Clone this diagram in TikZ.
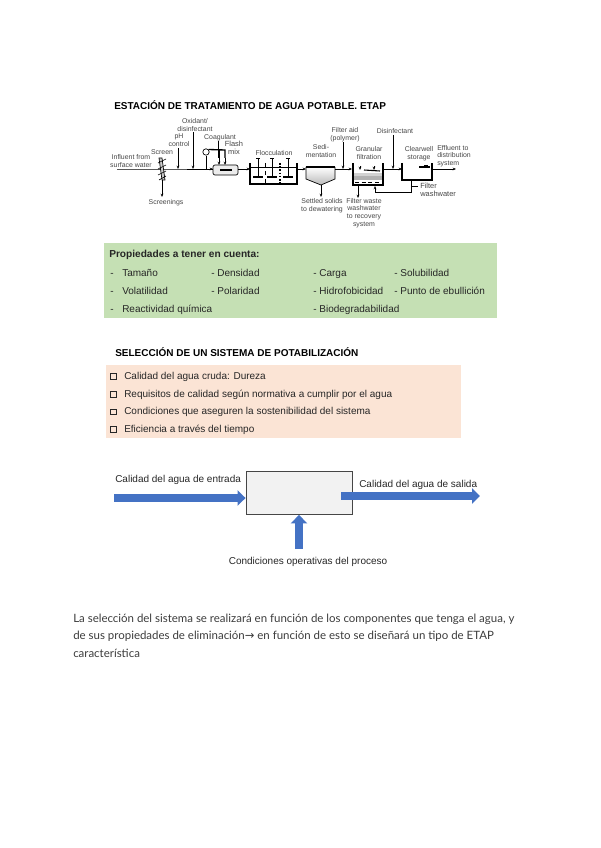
\documentclass[tikz,border=0pt]{standalone}
\usepackage{fontspec}
\setmainfont{Liberation Sans}
\newfontfamily\latofont{Lato}
\newfontfamily\flechafont{DejaVu Sans}
\usetikzlibrary{arrows.meta, calc}
\definecolor{etapgreen}{RGB}{197, 224, 180}
\definecolor{etappeach}{RGB}{251, 228, 213}
\definecolor{etapblue}{RGB}{68, 114, 196}
\definecolor{etapbox}{RGB}{242, 242, 242}
\definecolor{etapgray}{RGB}{70, 70, 70}
\definecolor{etaptext}{RGB}{60, 60, 60}
\tikzset{
  titulo/.style={anchor=west, inner sep=0pt, font=\fontsize{7.5}{8}\selectfont\bfseries},
  fila/.style={anchor=west, inner sep=0pt, text height=5.4pt, text depth=1.6pt, font=\fontsize{7.5}{9}\selectfont, text=black!85},
  casilla/.style={draw=black!85, line width=0.7pt, inner sep=0pt, minimum size=4pt},
  rotulo/.style={align=center, inner sep=0pt, font=\fontsize{5.2}{5.7}\selectfont, text=etapgray},
  linea/.style={line width=0.5pt, black},
  tramo/.style={linea, -{Stealth[length=2.5pt, width=2pt]}},
  tanque/.style={line width=0.8pt, black},
  flecha/.style={line width=5.5pt, etapblue, -{Triangle[length=6pt, width=11.5pt]}},
  parrafo/.style={anchor=west, inner sep=0pt, text height=6.4pt, text depth=1.8pt, font=\latofont\fontsize{8.6}{10}\selectfont, text=etaptext},
}
\begin{document}
\begin{tikzpicture}[x=0.75pt, y=-0.75pt]
\useasboundingbox (0,0) rectangle (600,848);

% Titulo de la estacion
\node[titulo] (tituloetap) at (114,105) {ESTACIÓN DE TRATAMIENTO DE AGUA POTABLE. ETAP};

% Linea principal
\coordinate (entrada) at (117,169);
\coordinate (criba) at (162,169);
\coordinate (phpunto) at (178,169);
\coordinate (oxpunto) at (193,169);
\coordinate (mezcla) at (213,169);
\draw[linea, line width=0.7pt] (entrada) -- (criba) -- (mezcla);
\draw[tramo] (oxpunto) -- (mezcla);

% Criba
\draw[linea, fill=gray!40] (159,158) -- (162,158) -- (165,180) -- (162,180) -- cycle;
\draw[linea] (158,163) -- (166,159) (158,169) -- (166,165) (158,175) -- (166,171) (159,180) -- (166,176);
\coordinate (cribafin) at (162,180);
\coordinate (cribado) at (162,197);
\draw[tramo] (cribafin) -- (cribado);

% Dosificaciones
\coordinate (phinicio) at (178,148);
\coordinate (oxinicio) at (193,132);
\draw[tramo] (phinicio) -- (phpunto);
\draw[tramo] (oxinicio) -- (oxpunto);

% Coagulante y mezcla rapida
\node[draw, circle, linea, inner sep=0pt, minimum size=4.8pt] (bomba) at (206,152) {};
\coordinate (bombapie) at (206,169);
\draw[linea] (bomba) -- (bombapie);
\coordinate (coagA) at (219,150);
\coordinate (coagB) at (225,150);
\draw[line width=1pt] (bomba.north east) -- (coagB) -- (225,158);
\draw[line width=1pt] (coagA) -- (219,158);
\draw[tramo] (225,158) -- (225,165);
\draw[tramo] (219,158) -- (219,165);
\draw[linea] (218,141) -- (218,150);
\draw[linea, rounded corners=1.5pt, fill=gray!15] (213,165) rectangle (238,175);
\draw[line width=0.8pt] (220,170) -- (232,170);

% Floculacion
\coordinate (flocin) at (250,169);
\draw[tramo, line width=0.7pt] (238,169) -- (flocin);
\draw[tanque] (250,163) -- (250,184) -- (297,184) -- (297,163);
\draw[linea] (250,167) -- (297,167);
\draw[linea, dashed] (265,163) -- (265,184);
\draw[line width=0.8pt, dash pattern=on 1.2pt off 1.2pt] (280,163) -- (280,184);
\foreach \px in {258,272,288} {
  \draw[linea] (\px,158) -- (\px,177);
  \draw[line width=0.8pt] (\px-5,177) -- (\px+5,177);
  \draw[linea] (\px-2,158) -- (\px+2,158);
}

% Sedimentacion
\coordinate (sedin) at (306,169);
\draw[tramo, line width=0.7pt] (297,169) -- (sedin);
\path[top color=white, bottom color=gray!55] (306,167) -- (335,167) -- (335,179) -- (321,185) -- (306,179) -- cycle;
\draw[linea] (306,167) -- (306,179) -- (321,185) -- (335,179) -- (335,167);
\draw[line width=0.8pt] (306,167) -- (335,167);
\coordinate (sedpie) at (321,185);
\coordinate (lodos) at (321,197);
\draw[tramo] (sedpie) -- (lodos);

% Filtracion granular
\coordinate (filin) at (352,169);
\coordinate (ayudapunto) at (343,169);
\coordinate (ayuda) at (343,142);
\draw[tramo, line width=0.7pt] (335,169) -- (filin);
\draw[tramo] (ayuda) -- (ayudapunto);
\fill[gray!35] (353,173) rectangle (383,180);
\fill[gray!60] (353,176) rectangle (383,180);
\draw[tanque] (353,163) -- (353,185) -- (383,185) -- (383,163);
\draw[line width=0.8pt] (364,170) -- (380,171);
\draw[tramo] (360,166) -- (360,170);
\draw[tramo] (374,166) -- (374,170);
\draw[linea, densely dashed] (355,182) -- (381,182);
\coordinate (residuo) at (358,198);
\draw[tramo] (358,185) -- (residuo);

% Deposito de agua tratada
\coordinate (depin) at (402,169);
\coordinate (desinfpunto) at (393,169);
\coordinate (desinf) at (393,135);
\draw[tramo, line width=0.7pt] (383,169) -- (depin);
\draw[tramo] (desinf) -- (desinfpunto);
\draw[tanque] (402,163) -- (402,180) -- (432,180) -- (432,163);
\draw[line width=0.8pt] (419,167) -- (430,167);
\draw[linea] (424,165) -- (428,165);
\coordinate (salida) at (456,169);
\draw[tramo, line width=0.7pt] (432,169) -- (salida);

% Agua de lavado
\coordinate (lavado) at (411,180);
\coordinate (lavadofin) at (375,186);
\draw[tramo, line width=0.7pt] (lavado) |- (375,192) -- (lavadofin);
\draw[linea] (412,186) -- (418,186);

% Rotulos del esquema
\node[rotulo] (lblinfluente) at (131,161) {Influent from\\surface water};
\node[rotulo] (lblcriba) at (162,152) {Screen};
\node[rotulo] (lblcribado) at (166,203) {Screenings};
\node[rotulo] (lblph) at (179,140) {pH\\control};
\node[rotulo] (lbloxidante) at (195,125) {Oxidant/\\disinfectant};
\node[rotulo] (lblcoag) at (220,137.5) {Coagulant};
\node[rotulo, font=\fontsize{5.6}{6}\selectfont] (lblmezcla) at (234,148) {Flash\\mix};
\node[rotulo] (lblfloc) at (274,153) {Flocculation};
\node[rotulo] (lblsed) at (321,151) {Sedi-\\mentation};
\node[rotulo] (lblayuda) at (345,135) {Filter aid\\(polymer)};
\node[rotulo] (lblgranular) at (369,153) {Granular\\filtration};
\node[rotulo] (lbldesinf) at (395,131) {Disinfectant};
\node[rotulo] (lbldeposito) at (419,154) {Clearwell\\storage};
\node[rotulo, align=left, anchor=west] (lblefluente) at (437,156) {Effluent to\\distribution\\system};
\node[rotulo, font=\fontsize{5.6}{6}\selectfont, align=left, anchor=west] (lblfiltrolavado) at (420,190) {Filter\\washwater};
\node[rotulo] (lbllodos) at (322,206) {Settled solids\\to dewatering};
\node[rotulo] (lblresiduo) at (364,213) {Filter waste\\washwater\\to recovery\\system};

% Propiedades
\fill[etapgreen] (104,243) rectangle (497,318);
\node[fila, font=\fontsize{7.6}{9}\selectfont\bfseries] (propiedades) at (109,255) {Propiedades a tener en cuenta:};
\node[fila] (guiona) at (110,273.5) {-};
\node[fila] (tamano) at (122,273.5) {Tamaño};
\node[fila] (densidad) at (211,273.5) {- Densidad};
\node[fila] (carga) at (313,273.5) {- Carga};
\node[fila] (solubilidad) at (394,273.5) {- Solubilidad};
\node[fila] (guionb) at (110,291.5) {-};
\node[fila] (volatilidad) at (122,291.5) {Volatilidad};
\node[fila] (polaridad) at (211,291.5) {- Polaridad};
\node[fila] (hidrofobicidad) at (313,291.5) {- Hidrofobicidad};
\node[fila] (ebullicion) at (394,291.5) {- Punto de ebullición};
\node[fila] (guionc) at (110,310) {-};
\node[fila] (reactividad) at (122,310) {Reactividad química};
\node[fila] (biodegradabilidad) at (313,310) {- Biodegradabilidad};

% Seleccion del sistema
\node[titulo] (tituloseleccion) at (115,352) {SELECCIÓN DE UN SISTEMA DE POTABILIZACIÓN};
\fill[etappeach] (106,365) rectangle (461,438);
\node[casilla] (casillaa) at (113.5,376.5) {};
\node[fila] (calidad) at (124,376.5) {Calidad del agua cruda: Dureza};
\node[casilla] (casillab) at (113.5,394.5) {};
\node[fila] (requisitos) at (124,394.5) {Requisitos de calidad según normativa a cumplir por el agua};
\node[casilla] (casillac) at (113.5,412) {};
\node[fila] (condiciones) at (124,412) {Condiciones que aseguren la sostenibilidad del sistema};
\node[casilla] (casillad) at (113.5,429.5) {};
\node[fila] (eficiencia) at (124,429.5) {Eficiencia a través del tiempo};

% Bloque del proceso
\node[draw=etapgray, fill=etapbox, line width=0.7pt, inner sep=0pt, minimum width=79.5pt, minimum height=32pt] (proceso) at (299,493) {};
\coordinate (aguaentra) at (114,498);
\coordinate (aguasale) at (341,496);
\coordinate (aguafin) at (480,496);
\coordinate (operacion) at (299,549);
\draw[flecha] (aguaentra) -- (proceso.west |- aguaentra);
\draw[flecha] (aguasale) -- (aguafin);
\draw[flecha, line width=6pt, -{Triangle[length=6.5pt, width=12pt]}] (operacion) -- (proceso.south);
\node[fila] (lblentrada) at (115,479.5) {Calidad del agua de entrada};
\node[fila] (lblsalida) at (359,484.5) {Calidad del agua de salida};
\node[fila, anchor=center] (lbloperacion) at (308,561.5) {Condiciones operativas del proceso};

% Texto final
\node[parrafo] (textoa) at (73,619) {La selección del sistema se realizará en función de los componentes que tenga el agua, y};
\node[parrafo] (textob) at (73,636.5) {de sus propiedades de eliminación{\flechafont →} en función de esto se diseñará un tipo de ETAP};
\node[parrafo] (textoc) at (73,654) {característica};

\end{tikzpicture}
\end{document}
